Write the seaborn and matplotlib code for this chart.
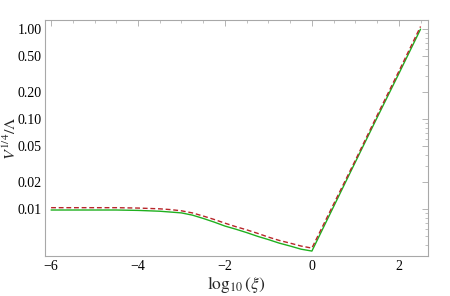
import numpy as np
import pandas as pd
import matplotlib
matplotlib.use("Agg")
import matplotlib.pyplot as plt
import matplotlib.ticker as mticker
import seaborn as sns

# log10(xi) sample points
log_xi = [-6.0, -5.5, -5.0, -4.5, -4.0, -3.75, -3.5, -3.25, -3.0, -2.75, -2.5,
          -2.25, -2.0, -1.75, -1.5, -1.25, -1.0, -0.75, -0.5, -0.25, 0.0,
          0.5, 1.0, 1.5, 2.0, 2.5]

# V^{1/4}/Lambda, solid green curve
v_green = [0.0098, 0.0098, 0.0098, 0.0098, 0.0097, 0.0096, 0.0095, 0.0093, 0.0091,
           0.0086, 0.0079, 0.0072, 0.0065, 0.0060, 0.0055, 0.0050, 0.0046, 0.0042,
           0.0039, 0.0036, 0.00343, 0.0107, 0.0334, 0.104, 0.32, 1.0]

# V^{1/4}/Lambda, dashed red curve
v_red = [0.0104, 0.0104, 0.0104, 0.0104, 0.0103, 0.0102, 0.0101, 0.0099, 0.0096,
         0.0091, 0.0084, 0.0077, 0.0070, 0.0064, 0.0059, 0.0054, 0.0049, 0.0045,
         0.0042, 0.0039, 0.0037, 0.0114, 0.035, 0.11, 0.34, 1.07]

y_ticks = [0.01, 0.02, 0.05, 0.10, 0.20, 0.50, 1.00]
x_ticks = [-6, -4, -2, 0, 2]

sns.set_style("white")
plt.rcParams['font.family'] = ['Liberation Serif', 'DejaVu Serif']
plt.rcParams['mathtext.fontset'] = 'stix'

df_g = pd.DataFrame({"x": log_xi, "y": v_green})
df_r = pd.DataFrame({"x": log_xi, "y": v_red})

fig = plt.figure(figsize=(4.5, 2.96), dpi=100)
ax = fig.add_axes([0.1, 0.135, 0.851, 0.797])

sns.lineplot(data=df_g, x="x", y="y", ax=ax, color="#1fb01f", lw=1.0)
sns.lineplot(data=df_r, x="x", y="y", ax=ax, color="#b8252a", lw=1.0,
             dashes=False, linestyle=(0, (3.5, 2)))

ax.set_yscale("log")
ax.set_xlim(-6.14, 2.67)
ax.set_ylim(10 ** -2.52, 10 ** 0.1)
ax.set_yticks(y_ticks)
ax.set_yticklabels(["%.2f" % t for t in y_ticks])
ax.yaxis.set_minor_locator(mticker.LogLocator(base=10, subs=np.arange(2, 10)))
ax.yaxis.set_minor_formatter(mticker.NullFormatter())
ax.set_xticks(x_ticks)
ax.set_xticklabels(["\u22126", "\u22124", "\u22122", "0", "2"])
ax.xaxis.set_minor_locator(mticker.MultipleLocator(0.5))

for s in ax.spines.values():
    s.set_color("#a8a8a8")
    s.set_linewidth(0.8)
ax.tick_params(which="both", direction="in", top=True, right=True, colors="#a8a8a8",
               labelcolor="black", labelsize=10, pad=2.5)
ax.tick_params(which="major", length=4, width=0.6)
ax.tick_params(which="minor", length=2, width=0.5)
ax.tick_params(axis="x", which="both", labeltop=False)
ax.tick_params(axis="y", which="both", labelright=False)

ax.set_xlabel(r"$\log_{10}(\xi)$", fontsize=12.5, labelpad=1)
ax.set_ylabel(r"$V^{1/4}/\Lambda$", fontsize=11.5)
ax.yaxis.set_label_coords(-0.066, 0.5)

fig.savefig("out.png", dpi=100)
